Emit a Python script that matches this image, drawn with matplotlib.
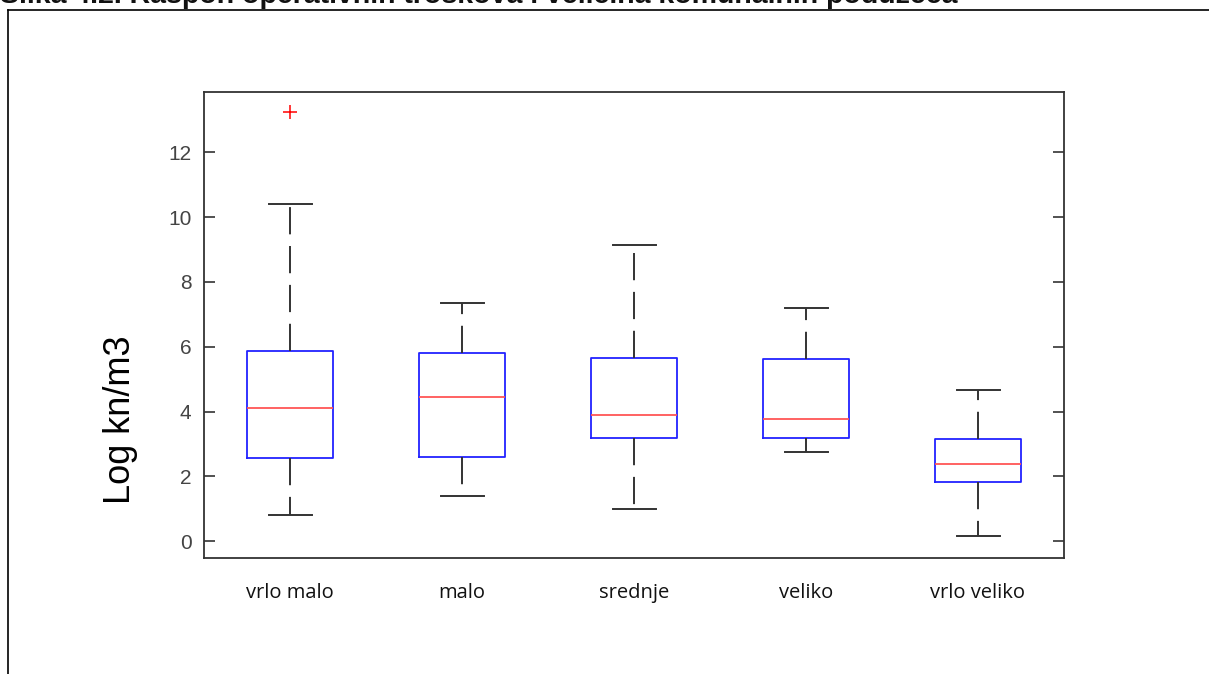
import matplotlib
matplotlib.use("Agg")
from matplotlib import pyplot as plt

# valores (log kn/m3)
kategorije = ["vrlo malo", "malo", "srednje", "veliko", "vrlo veliko"]
donji_brk = [0.80, 1.39, 0.99, 2.75, 0.15]
q1 = [2.57, 2.60, 3.18, 3.18, 1.83]
medijan = [4.11, 4.44, 3.90, 3.77, 2.38]
q3 = [5.87, 5.81, 5.65, 5.62, 3.15]
gornji_brk = [10.41, 7.35, 9.13, 7.20, 4.66]
outlieri = [[13.23], [], [], [], []]

naslov = "Slika 4.2. Raspon operativnih troškova i veličina komunalnih poduzeća"

stats = []
for i, k in enumerate(kategorije):
    stats.append({"label": k, "whislo": donji_brk[i], "q1": q1[i], "med": medijan[i],
                  "q3": q3[i], "whishi": gornji_brk[i], "fliers": outlieri[i]})

fig = plt.figure(figsize=(12.09, 6.74), dpi=100)
ax = fig.add_axes([204/1209, 116/674, 860/1209, 466/674])

ax.bxp(stats, positions=range(1, 6), widths=0.5, capwidths=0.25,
       boxprops=dict(color="#2222ff", linewidth=1.3),
       medianprops=dict(color="#ff5555", linewidth=1.3),
       whiskerprops=dict(color="#333333", linewidth=1.4, linestyle=(0, (14, 6))),
       capprops=dict(color="#333333", linewidth=1.4),
       flierprops=dict(marker="+", markeredgecolor="red", markersize=10, markeredgewidth=1.1))

ax.set_xlim(0.5, 5.5)
ax.set_ylim(-0.52, 13.86)
ax.set_yticks([0, 2, 4, 6, 8, 10, 12])
ax.set_yticklabels([str(v) for v in [0, 2, 4, 6, 8, 10, 12]], family="Liberation Sans")
for s in ax.spines.values():
    s.set_color("#333333")
    s.set_linewidth(1.3)
ax.tick_params(axis="y", direction="in", length=8, width=1.2, color="#333333",
               labelsize=15, labelcolor="#444444", pad=9, right=True)
ax.tick_params(axis="x", length=0, pad=18)
ax.set_xticklabels(kategorije, fontsize=14.5, family="Open Sans", color="#111111")

fig.text(120/1209, 1 - 420/674, "Log kn/m3", rotation=90, fontsize=26,
         ha="center", va="center", family="Liberation Sans")

# naslov odrezan na vrhu, kao na slici
fig.text(0.0, 1 - 3/674, naslov, fontsize=20.5, fontweight="bold", family="Liberation Sans",
         ha="left", va="baseline", color="#111111")

# okvir oko slike
fig.add_artist(plt.Line2D([8/1209, 8/1209], [0, 1 - 10/674], transform=fig.transFigure,
                          color="black", linewidth=1.2))
fig.add_artist(plt.Line2D([8/1209, 1], [1 - 10/674, 1 - 10/674], transform=fig.transFigure,
                          color="black", linewidth=1.2))

fig.savefig("out.png", dpi=100)
